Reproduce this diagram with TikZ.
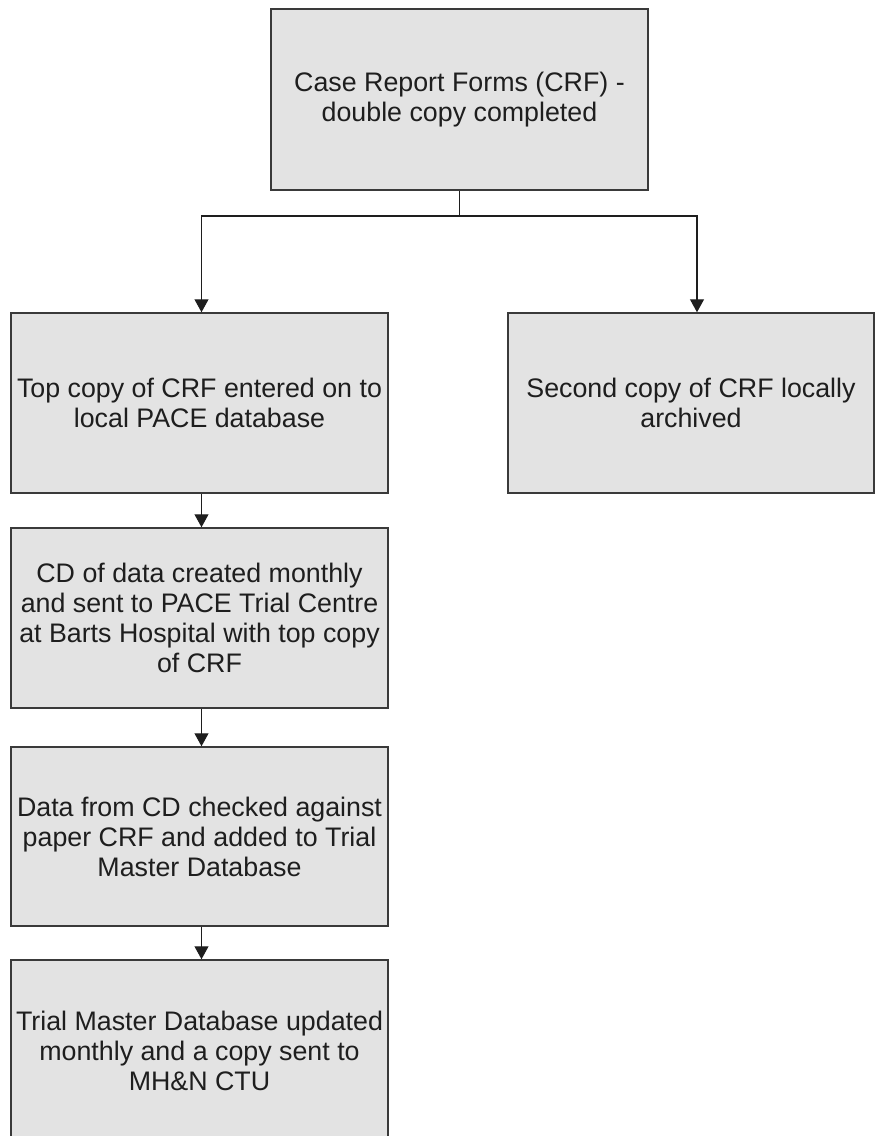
\documentclass[tikz,border=0pt]{standalone}
\usepackage{fontspec}
\setmainfont{Liberation Sans}
\usetikzlibrary{arrows.meta}
\definecolor{boxfill}{HTML}{E3E3E3}
\definecolor{boxline}{HTML}{3A3A3A}
\definecolor{inkcol}{HTML}{1E1E1E}
\begin{document}
\begin{tikzpicture}[x=1pt,y=-1pt,
  box/.style={draw=boxline, line width=1.5pt, fill=boxfill, align=center, inner sep=0pt,
    font=\fontsize{26.8}{30}\selectfont, text=inkcol},
  link/.style={draw=inkcol, line width=1.2pt},
  flow/.style={link, -{Triangle[width=14pt,length=13pt]}}]
\useasboundingbox (0,0) rectangle (875,1136);
\clip (0,0) rectangle (875,1136);
\node[box, minimum width=377pt, minimum height=181pt] (crf) at (459.5,99.5)
  {Case Report Forms (CRF) -\\double copy completed};
\node[box, minimum width=377pt, minimum height=180pt] (top1) at (199.5,403)
  {Top copy of CRF entered on to\\local PACE database};
\node[box, minimum width=366pt, minimum height=180pt] (second) at (691,403)
  {Second copy of CRF locally\\archived};
\node[box, minimum width=377pt, minimum height=180pt] (cd) at (199.5,618)
  {CD of data created monthly\\and sent to PACE Trial Centre\\at Barts Hospital with top copy\\of CRF};
\node[box, minimum width=377pt, minimum height=179pt] (check) at (199.5,836.5)
  {Data from CD checked against\\paper CRF and added to Trial\\Master Database};
\node[box, minimum width=377pt, minimum height=182pt] (master) at (199.5,1051)
  {Trial Master Database updated\\monthly and a copy sent to\\MH\&N CTU};
\coordinate (j) at (459.5,216);
\draw[link] (crf.south) -- (j);
\draw[flow] (j) -| ([xshift=2pt]top1.north);
\draw[flow] (j) -| ([xshift=6pt]second.north);
\draw[flow] ([xshift=2pt]top1.south) -- ([xshift=2pt]cd.north);
\draw[flow] ([xshift=2pt]cd.south) -- ([xshift=2pt]check.north);
\draw[flow] ([xshift=2pt]check.south) -- ([xshift=2pt]master.north);
\end{tikzpicture}
\end{document}
